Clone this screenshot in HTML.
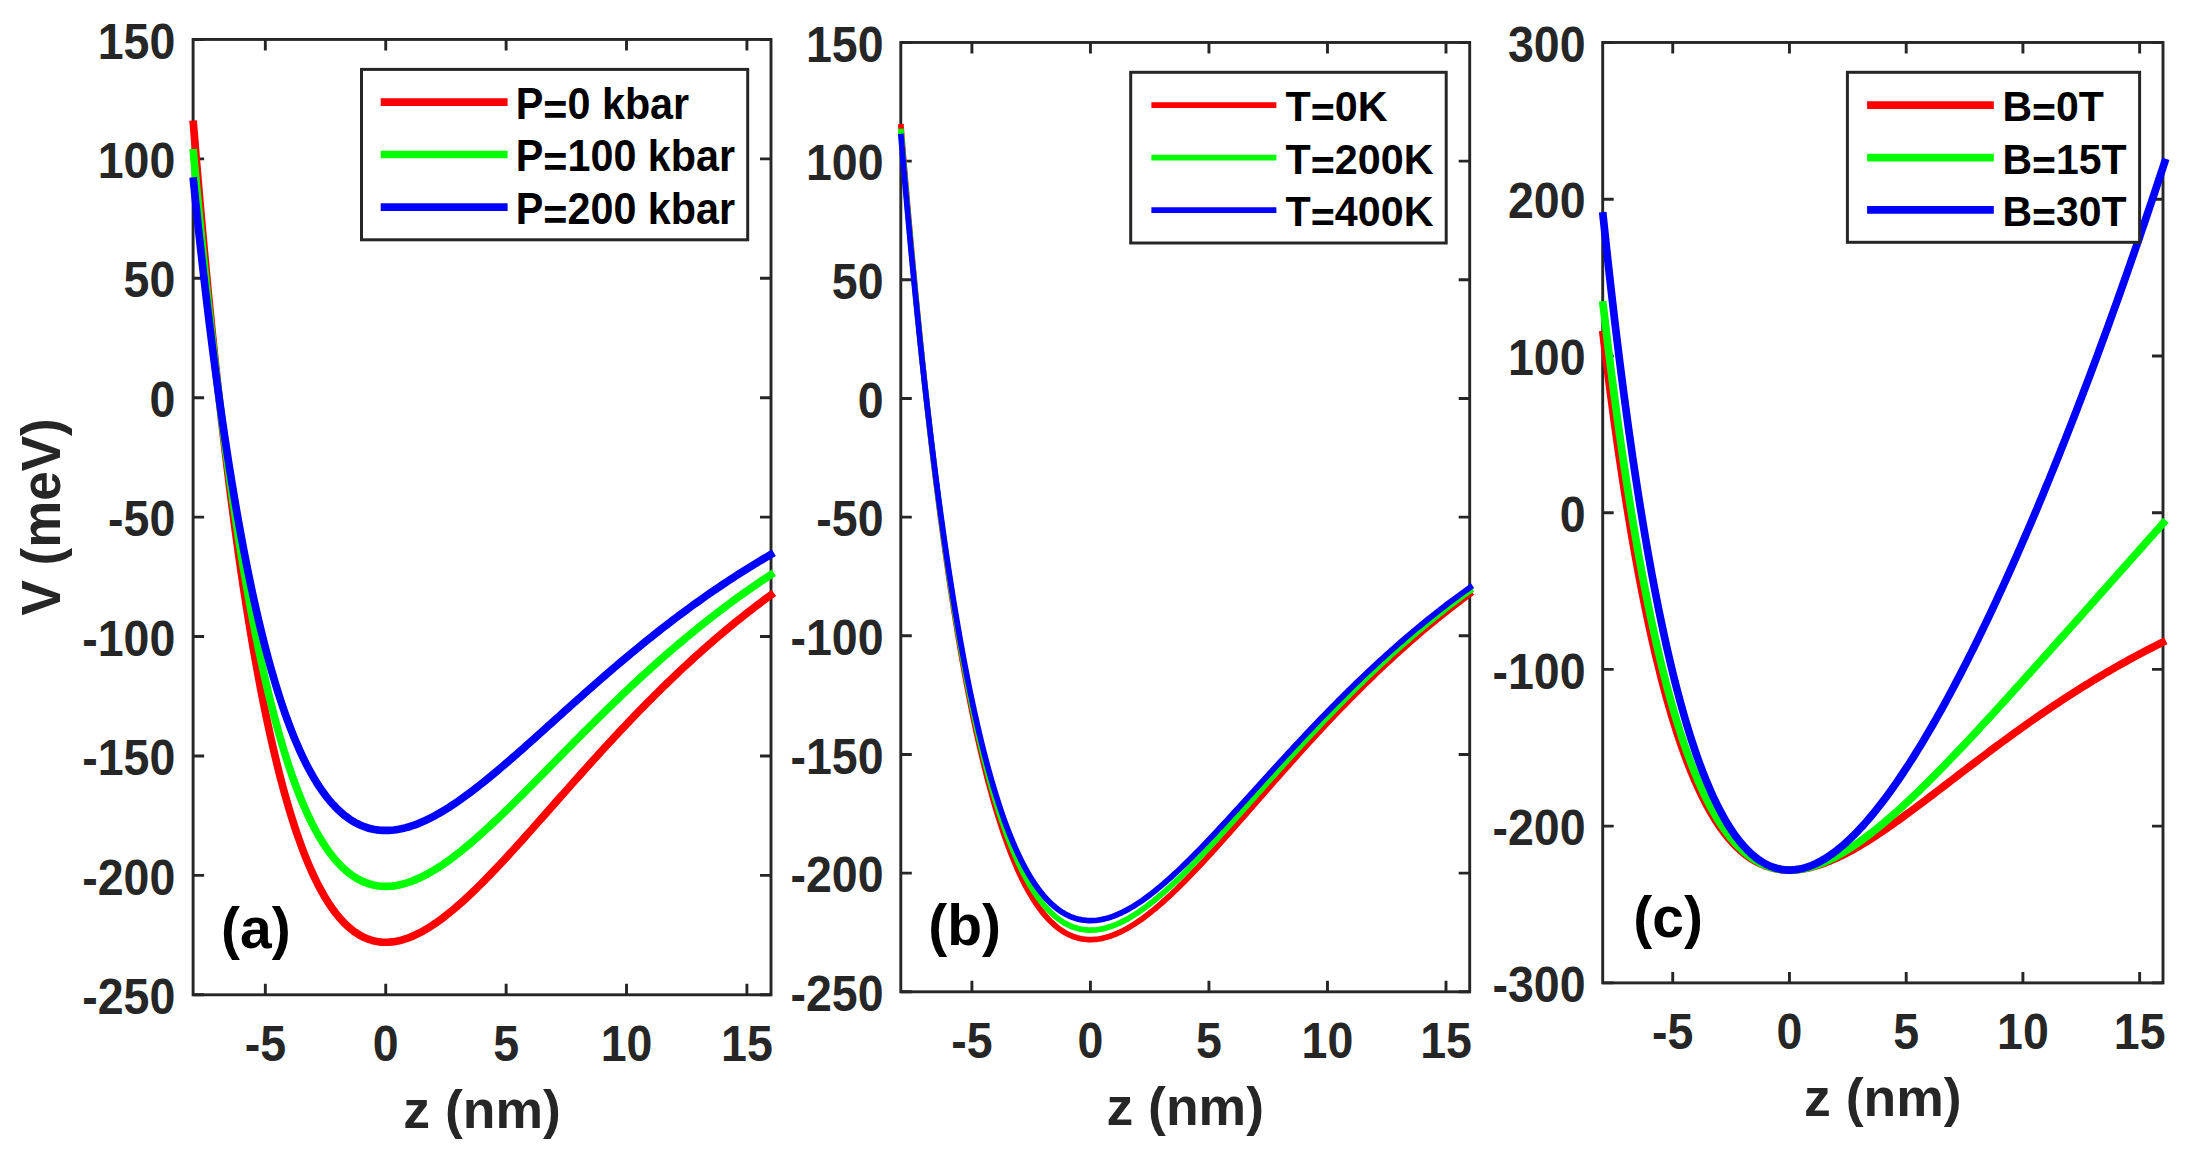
<!DOCTYPE html>
<html lang="en"><head><meta charset="utf-8"><title>V(z) potential profiles</title>
<style>html,body{margin:0;padding:0;background:#fff;}body{width:2190px;height:1150px;overflow:hidden;}svg{display:block;}</style>
</head><body>
<svg width="2190" height="1150" viewBox="0 0 2190 1150" font-family='"Liberation Sans", Arial, Helvetica, sans-serif' font-weight="700">
<rect width="2190" height="1150" fill="#ffffff"/>
<g><path d="M265.34 994.80V983.80M265.34 39.45V50.45M385.73 994.80V983.80M385.73 39.45V50.45M506.13 994.80V983.80M506.13 39.45V50.45M626.52 994.80V983.80M626.52 39.45V50.45M746.92 994.80V983.80M746.92 39.45V50.45M193.10 994.80H204.10M771.00 994.80H760.00M193.10 875.38H204.10M771.00 875.38H760.00M193.10 755.96H204.10M771.00 755.96H760.00M193.10 636.54H204.10M771.00 636.54H760.00M193.10 517.12H204.10M771.00 517.12H760.00M193.10 397.71H204.10M771.00 397.71H760.00M193.10 278.29H204.10M771.00 278.29H760.00M193.10 158.87H204.10M771.00 158.87H760.00M193.10 39.45H204.10M771.00 39.45H760.00" stroke="#262626" stroke-width="2.9" fill="none"/>
<rect x="193.10" y="39.45" width="577.90" height="955.35" fill="none" stroke="#262626" stroke-width="2.9"/>
<text transform="translate(265.34 1060.50) scale(1 1.06)" font-size="46.5" fill="#262626" text-anchor="middle">-5</text>
<text transform="translate(385.73 1060.50) scale(1 1.06)" font-size="46.5" fill="#262626" text-anchor="middle">0</text>
<text transform="translate(506.13 1060.50) scale(1 1.06)" font-size="46.5" fill="#262626" text-anchor="middle">5</text>
<text transform="translate(626.52 1060.50) scale(1 1.06)" font-size="46.5" fill="#262626" text-anchor="middle">10</text>
<text transform="translate(746.92 1060.50) scale(1 1.06)" font-size="46.5" fill="#262626" text-anchor="middle">15</text>
<text transform="translate(175.30 1014.00) scale(1 1.06)" font-size="46.5" fill="#262626" text-anchor="end">-250</text>
<text transform="translate(175.30 895.00) scale(1 1.06)" font-size="46.5" fill="#262626" text-anchor="end">-200</text>
<text transform="translate(175.30 775.00) scale(1 1.06)" font-size="46.5" fill="#262626" text-anchor="end">-150</text>
<text transform="translate(175.30 656.00) scale(1 1.06)" font-size="46.5" fill="#262626" text-anchor="end">-100</text>
<text transform="translate(175.30 536.00) scale(1 1.06)" font-size="46.5" fill="#262626" text-anchor="end">-50</text>
<text transform="translate(175.30 417.00) scale(1 1.06)" font-size="46.5" fill="#262626" text-anchor="end">0</text>
<text transform="translate(175.30 297.00) scale(1 1.06)" font-size="46.5" fill="#262626" text-anchor="end">50</text>
<text transform="translate(175.30 178.00) scale(1 1.06)" font-size="46.5" fill="#262626" text-anchor="end">100</text>
<text transform="translate(175.30 59.00) scale(1 1.06)" font-size="46.5" fill="#262626" text-anchor="end">150</text>
<text transform="translate(482.05 1128.40)" font-size="53.5" fill="#262626" text-anchor="middle">z (nm)</text>
<text transform="translate(59.50 516.92) rotate(-90) scale(1 1.03)" font-size="53.0" fill="#262626" text-anchor="middle">V (meV)</text>
<polyline points="193.10,120.56 195.52,150.15 197.94,178.90 200.36,206.85 202.78,234.00 205.20,260.38 207.62,286.00 210.04,310.88 212.46,335.03 214.88,358.49 217.30,381.25 219.72,403.33 222.14,424.76 224.56,445.55 226.98,465.71 229.40,485.25 231.82,504.20 234.24,522.56 236.66,540.35 239.08,557.59 241.50,574.27 243.92,590.43 246.34,606.07 248.76,621.20 251.18,635.83 253.60,649.99 256.02,663.67 258.44,676.89 260.86,689.66 263.28,702.00 265.70,713.91 268.12,725.39 270.54,736.48 272.96,747.16 275.38,757.46 277.80,767.38 280.22,776.93 282.64,786.12 285.06,794.96 287.48,803.46 289.90,811.62 292.32,819.46 294.74,826.98 297.16,834.19 299.58,841.10 302.00,847.72 304.42,854.05 306.84,860.09 309.26,865.87 311.68,871.38 314.10,876.64 316.52,881.64 318.94,886.40 321.36,890.91 323.78,895.20 326.20,899.26 328.62,903.09 331.04,906.71 333.46,910.13 335.88,913.34 338.30,916.35 340.72,919.16 343.14,921.79 345.56,924.24 347.98,926.51 350.40,928.60 352.82,930.53 355.24,932.29 357.66,933.90 360.08,935.35 362.50,936.65 364.92,937.80 367.34,938.81 369.76,939.68 372.18,940.42 374.60,941.03 377.02,941.51 379.44,941.87 381.86,942.11 384.28,942.24 386.70,942.25 389.12,942.15 391.54,941.95 393.96,941.64 396.38,941.23 398.80,940.73 401.22,940.14 403.64,939.45 406.06,938.68 408.48,937.82 410.90,936.88 413.32,935.86 415.74,934.76 418.16,933.59 420.58,932.34 423.00,931.03 425.42,929.65 427.84,928.20 430.26,926.69 432.68,925.12 435.10,923.49 437.52,921.81 439.94,920.07 442.36,918.28 444.78,916.43 447.20,914.54 449.62,912.60 452.04,910.62 454.46,908.59 456.88,906.52 459.30,904.42 461.72,902.27 464.14,900.09 466.56,897.87 468.98,895.61 471.39,893.33 473.81,891.01 476.23,888.67 478.65,886.29 481.07,883.89 483.49,881.46 485.91,879.01 488.33,876.54 490.75,874.04 493.17,871.52 495.59,868.99 498.01,866.43 500.43,863.86 502.85,861.27 505.27,858.67 507.69,856.05 510.11,853.41 512.53,850.77 514.95,848.11 517.37,845.44 519.79,842.76 522.21,840.08 524.63,837.38 527.05,834.68 529.47,831.97 531.89,829.25 534.31,826.53 536.73,823.80 539.15,821.07 541.57,818.34 543.99,815.60 546.41,812.86 548.83,810.12 551.25,807.38 553.67,804.64 556.09,801.90 558.51,799.16 560.93,796.42 563.35,793.69 565.77,790.95 568.19,788.22 570.61,785.50 573.03,782.77 575.45,780.05 577.87,777.34 580.29,774.63 582.71,771.92 585.13,769.22 587.55,766.53 589.97,763.84 592.39,761.16 594.81,758.49 597.23,755.82 599.65,753.17 602.07,750.52 604.49,747.88 606.91,745.24 609.33,742.62 611.75,740.01 614.17,737.40 616.59,734.81 619.01,732.22 621.43,729.65 623.85,727.08 626.27,724.53 628.69,721.98 631.11,719.45 633.53,716.93 635.95,714.42 638.37,711.92 640.79,709.43 643.21,706.96 645.63,704.50 648.05,702.04 650.47,699.61 652.89,697.18 655.31,694.76 657.73,692.36 660.15,689.97 662.57,687.60 664.99,685.23 667.41,682.88 669.83,680.54 672.25,678.22 674.67,675.91 677.09,673.61 679.51,671.32 681.93,669.05 684.35,666.79 686.77,664.55 689.19,662.32 691.61,660.10 694.03,657.90 696.45,655.71 698.87,653.53 701.29,651.37 703.71,649.22 706.13,647.08 708.55,644.96 710.97,642.85 713.39,640.76 715.81,638.67 718.23,636.61 720.65,634.55 723.07,632.52 725.49,630.49 727.91,628.48 730.33,626.48 732.75,624.50 735.17,622.53 737.59,620.57 740.01,618.63 742.43,616.70 744.85,614.78 747.27,612.88 749.69,610.99 752.11,609.12 754.53,607.26 756.95,605.41 759.37,603.57 761.79,601.75 764.21,599.95 766.63,598.15 769.05,596.37 771.47,594.60 773.89,592.85" fill="none" stroke="#ff0000" stroke-width="7.7" stroke-linejoin="round" stroke-linecap="butt"/>
<polyline points="193.10,149.00 195.52,175.56 197.94,201.36 200.36,226.44 202.78,250.80 205.20,274.47 207.62,297.46 210.04,319.79 212.46,341.47 214.88,362.51 217.30,382.94 219.72,402.76 222.14,421.99 224.56,440.64 226.98,458.73 229.40,476.27 231.82,493.27 234.24,509.75 236.66,525.71 239.08,541.18 241.50,556.15 243.92,570.65 246.34,584.68 248.76,598.26 251.18,611.40 253.60,624.10 256.02,636.37 258.44,648.24 260.86,659.70 263.28,670.77 265.70,681.45 268.12,691.76 270.54,701.71 272.96,711.30 275.38,720.54 277.80,729.44 280.22,738.01 282.64,746.26 285.06,754.19 287.48,761.81 289.90,769.14 292.32,776.17 294.74,782.92 297.16,789.39 299.58,795.59 302.00,801.53 304.42,807.21 306.84,812.64 309.26,817.82 311.68,822.77 314.10,827.48 316.52,831.97 318.94,836.24 321.36,840.29 323.78,844.14 326.20,847.78 328.62,851.22 331.04,854.47 333.46,857.54 335.88,860.42 338.30,863.12 340.72,865.65 343.14,868.01 345.56,870.20 347.98,872.24 350.40,874.12 352.82,875.85 355.24,877.43 357.66,878.87 360.08,880.17 362.50,881.34 364.92,882.37 367.34,883.28 369.76,884.06 372.18,884.72 374.60,885.27 377.02,885.70 379.44,886.02 381.86,886.24 384.28,886.35 386.70,886.36 389.12,886.27 391.54,886.09 393.96,885.82 396.38,885.45 398.80,885.00 401.22,884.47 403.64,883.85 406.06,883.16 408.48,882.39 410.90,881.54 413.32,880.63 415.74,879.64 418.16,878.59 420.58,877.47 423.00,876.29 425.42,875.05 427.84,873.76 430.26,872.40 432.68,870.99 435.10,869.53 437.52,868.02 439.94,866.46 442.36,864.85 444.78,863.20 447.20,861.50 449.62,859.76 452.04,857.98 454.46,856.16 456.88,854.30 459.30,852.41 461.72,850.49 464.14,848.53 466.56,846.53 468.98,844.51 471.39,842.46 473.81,840.38 476.23,838.28 478.65,836.15 481.07,833.99 483.49,831.81 485.91,829.62 488.33,827.39 490.75,825.15 493.17,822.90 495.59,820.62 498.01,818.33 500.43,816.02 502.85,813.69 505.27,811.36 507.69,809.01 510.11,806.64 512.53,804.27 514.95,801.88 517.37,799.49 519.79,797.09 522.21,794.67 524.63,792.26 527.05,789.83 529.47,787.40 531.89,784.96 534.31,782.52 536.73,780.07 539.15,777.62 541.57,775.17 543.99,772.71 546.41,770.26 548.83,767.80 551.25,765.34 553.67,762.88 556.09,760.42 558.51,757.96 560.93,755.50 563.35,753.05 565.77,750.59 568.19,748.14 570.61,745.70 573.03,743.25 575.45,740.81 577.87,738.37 580.29,735.94 582.71,733.51 585.13,731.09 587.55,728.68 589.97,726.26 592.39,723.86 594.81,721.46 597.23,719.07 599.65,716.68 602.07,714.31 604.49,711.94 606.91,709.58 609.33,707.22 611.75,704.88 614.17,702.54 616.59,700.21 619.01,697.89 621.43,695.58 623.85,693.28 626.27,690.99 628.69,688.70 631.11,686.43 633.53,684.17 635.95,681.92 638.37,679.67 640.79,677.44 643.21,675.22 645.63,673.01 648.05,670.81 650.47,668.62 652.89,666.44 655.31,664.28 657.73,662.12 660.15,659.98 662.57,657.84 664.99,655.72 667.41,653.61 669.83,651.52 672.25,649.43 674.67,647.36 677.09,645.29 679.51,643.24 681.93,641.20 684.35,639.18 686.77,637.16 689.19,635.16 691.61,633.17 694.03,631.19 696.45,629.23 698.87,627.27 701.29,625.33 703.71,623.40 706.13,621.49 708.55,619.58 710.97,617.69 713.39,615.81 715.81,613.94 718.23,612.09 720.65,610.25 723.07,608.42 725.49,606.60 727.91,604.79 730.33,603.00 732.75,601.22 735.17,599.45 737.59,597.70 740.01,595.95 742.43,594.22 744.85,592.50 747.27,590.80 749.69,589.10 752.11,587.42 754.53,585.75 756.95,584.09 759.37,582.44 761.79,580.81 764.21,579.19 766.63,577.58 769.05,575.98 771.47,574.40 773.89,572.82" fill="none" stroke="#00ff00" stroke-width="7.7" stroke-linejoin="round" stroke-linecap="butt"/>
<polyline points="193.10,177.45 195.52,200.96 197.94,223.82 200.36,246.03 202.78,267.60 205.20,288.57 207.62,308.93 210.04,328.70 212.46,347.90 214.88,366.54 217.30,384.63 219.72,402.18 222.14,419.21 224.56,435.73 226.98,451.75 229.40,467.28 231.82,482.34 234.24,496.93 236.66,511.07 239.08,524.77 241.50,538.03 243.92,550.87 246.34,563.30 248.76,575.32 251.18,586.96 253.60,598.20 256.02,609.08 258.44,619.58 260.86,629.74 263.28,639.54 265.70,649.00 268.12,658.13 270.54,666.94 272.96,675.43 275.38,683.62 277.80,691.50 280.22,699.09 282.64,706.39 285.06,713.42 287.48,720.17 289.90,726.66 292.32,732.89 294.74,738.87 297.16,744.60 299.58,750.09 302.00,755.35 304.42,760.38 306.84,765.18 309.26,769.78 311.68,774.16 314.10,778.33 316.52,782.31 318.94,786.09 321.36,789.68 323.78,793.08 326.20,796.31 328.62,799.36 331.04,802.23 333.46,804.95 335.88,807.50 338.30,809.89 340.72,812.13 343.14,814.22 345.56,816.16 347.98,817.96 350.40,819.63 352.82,821.16 355.24,822.56 357.66,823.84 360.08,824.99 362.50,826.02 364.92,826.94 367.34,827.74 369.76,828.44 372.18,829.02 374.60,829.51 377.02,829.89 379.44,830.18 381.86,830.37 384.28,830.46 386.70,830.47 389.12,830.40 391.54,830.23 393.96,829.99 396.38,829.67 398.80,829.27 401.22,828.80 403.64,828.25 406.06,827.64 408.48,826.95 410.90,826.21 413.32,825.39 415.74,824.52 418.16,823.59 420.58,822.60 423.00,821.56 425.42,820.46 427.84,819.31 430.26,818.11 432.68,816.86 435.10,815.57 437.52,814.23 439.94,812.85 442.36,811.42 444.78,809.96 447.20,808.45 449.62,806.91 452.04,805.34 454.46,803.73 456.88,802.08 459.30,800.41 461.72,798.70 464.14,796.97 466.56,795.20 468.98,793.41 471.39,791.59 473.81,789.75 476.23,787.89 478.65,786.00 481.07,784.09 483.49,782.17 485.91,780.22 488.33,778.25 490.75,776.27 493.17,774.27 495.59,772.25 498.01,770.22 500.43,768.18 502.85,766.12 505.27,764.05 507.69,761.97 510.11,759.87 512.53,757.77 514.95,755.66 517.37,753.54 519.79,751.41 522.21,749.27 524.63,747.13 527.05,744.98 529.47,742.83 531.89,740.67 534.31,738.51 536.73,736.34 539.15,734.17 541.57,732.00 543.99,729.82 546.41,727.65 548.83,725.47 551.25,723.29 553.67,721.11 556.09,718.94 558.51,716.76 560.93,714.58 563.35,712.41 565.77,710.24 568.19,708.06 570.61,705.90 573.03,703.73 575.45,701.57 577.87,699.41 580.29,697.26 582.71,695.11 585.13,692.96 587.55,690.82 589.97,688.69 592.39,686.56 594.81,684.43 597.23,682.32 599.65,680.20 602.07,678.10 604.49,676.00 606.91,673.91 609.33,671.82 611.75,669.74 614.17,667.67 616.59,665.61 619.01,663.56 621.43,661.51 623.85,659.47 626.27,657.44 628.69,655.42 631.11,653.41 633.53,651.41 635.95,649.41 638.37,647.42 640.79,645.45 643.21,643.48 645.63,641.52 648.05,639.58 650.47,637.64 652.89,635.71 655.31,633.79 657.73,631.88 660.15,629.98 662.57,628.09 664.99,626.21 667.41,624.35 669.83,622.49 672.25,620.64 674.67,618.80 677.09,616.98 679.51,615.16 681.93,613.36 684.35,611.56 686.77,609.78 689.19,608.00 691.61,606.24 694.03,604.49 696.45,602.75 698.87,601.02 701.29,599.30 703.71,597.59 706.13,595.89 708.55,594.21 710.97,592.53 713.39,590.87 715.81,589.21 718.23,587.57 720.65,585.94 723.07,584.32 725.49,582.71 727.91,581.11 730.33,579.52 732.75,577.94 735.17,576.38 737.59,574.82 740.01,573.28 742.43,571.75 744.85,570.22 747.27,568.71 749.69,567.21 752.11,565.72 754.53,564.24 756.95,562.77 759.37,561.32 761.79,559.87 764.21,558.43 766.63,557.01 769.05,555.59 771.47,554.19 773.89,552.79" fill="none" stroke="#0000ff" stroke-width="7.7" stroke-linejoin="round" stroke-linecap="butt"/>
<rect x="361.50" y="69.40" width="386.20" height="170.40" fill="#ffffff" stroke="#262626" stroke-width="3"/>
<line x1="380.70" x2="507.60" y1="102.20" y2="102.20" stroke="#ff0000" stroke-width="7.7"/>
<text transform="translate(515.80 119.00) scale(1 1.06)" font-size="41.3" fill="#000000"><tspan>P</tspan><tspan dy="5.60">=</tspan><tspan dy="-5.60">0 kbar</tspan></text>
<line x1="380.70" x2="507.60" y1="154.50" y2="154.50" stroke="#00ff00" stroke-width="7.7"/>
<text transform="translate(515.80 171.00) scale(1 1.06)" font-size="41.3" fill="#000000"><tspan>P</tspan><tspan dy="5.60">=</tspan><tspan dy="-5.60">100 kbar</tspan></text>
<line x1="380.70" x2="507.60" y1="207.10" y2="207.10" stroke="#0000ff" stroke-width="7.7"/>
<text transform="translate(515.80 224.00) scale(1 1.06)" font-size="41.3" fill="#000000"><tspan>P</tspan><tspan dy="5.60">=</tspan><tspan dy="-5.60">200 kbar</tspan></text>
<text transform="translate(221.00 948.00)" font-size="57" fill="#000000">(a)</text></g>
<g><path d="M971.91 991.80V980.80M971.91 42.47V53.47M1090.43 991.80V980.80M1090.43 42.47V53.47M1208.95 991.80V980.80M1208.95 42.47V53.47M1327.47 991.80V980.80M1327.47 42.47V53.47M1446.00 991.80V980.80M1446.00 42.47V53.47M900.80 991.80H911.80M1469.70 991.80H1458.70M900.80 873.13H911.80M1469.70 873.13H1458.70M900.80 754.47H911.80M1469.70 754.47H1458.70M900.80 635.80H911.80M1469.70 635.80H1458.70M900.80 517.13H911.80M1469.70 517.13H1458.70M900.80 398.47H911.80M1469.70 398.47H1458.70M900.80 279.80H911.80M1469.70 279.80H1458.70M900.80 161.14H911.80M1469.70 161.14H1458.70M900.80 42.47H911.80M1469.70 42.47H1458.70" stroke="#262626" stroke-width="2.9" fill="none"/>
<rect x="900.80" y="42.47" width="568.90" height="949.33" fill="none" stroke="#262626" stroke-width="2.9"/>
<text transform="translate(971.91 1057.50) scale(1 1.06)" font-size="46.5" fill="#262626" text-anchor="middle">-5</text>
<text transform="translate(1090.43 1057.50) scale(1 1.06)" font-size="46.5" fill="#262626" text-anchor="middle">0</text>
<text transform="translate(1208.95 1057.50) scale(1 1.06)" font-size="46.5" fill="#262626" text-anchor="middle">5</text>
<text transform="translate(1327.47 1057.50) scale(1 1.06)" font-size="46.5" fill="#262626" text-anchor="middle">10</text>
<text transform="translate(1446.00 1057.50) scale(1 1.06)" font-size="46.5" fill="#262626" text-anchor="middle">15</text>
<text transform="translate(883.50 1011.00) scale(1 1.06)" font-size="46.5" fill="#262626" text-anchor="end">-250</text>
<text transform="translate(883.50 892.00) scale(1 1.06)" font-size="46.5" fill="#262626" text-anchor="end">-200</text>
<text transform="translate(883.50 774.00) scale(1 1.06)" font-size="46.5" fill="#262626" text-anchor="end">-150</text>
<text transform="translate(883.50 655.00) scale(1 1.06)" font-size="46.5" fill="#262626" text-anchor="end">-100</text>
<text transform="translate(883.50 536.00) scale(1 1.06)" font-size="46.5" fill="#262626" text-anchor="end">-50</text>
<text transform="translate(883.50 418.00) scale(1 1.06)" font-size="46.5" fill="#262626" text-anchor="end">0</text>
<text transform="translate(883.50 299.00) scale(1 1.06)" font-size="46.5" fill="#262626" text-anchor="end">50</text>
<text transform="translate(883.50 180.00) scale(1 1.06)" font-size="46.5" fill="#262626" text-anchor="end">100</text>
<text transform="translate(883.50 62.00) scale(1 1.06)" font-size="46.5" fill="#262626" text-anchor="end">150</text>
<text transform="translate(1185.25 1125.40)" font-size="53.5" fill="#262626" text-anchor="middle">z (nm)</text>
<polyline points="900.80,124.02 903.18,153.38 905.56,181.92 907.95,209.65 910.33,236.60 912.71,262.78 915.09,288.20 917.48,312.89 919.86,336.87 922.24,360.14 924.62,382.73 927.00,404.65 929.39,425.92 931.77,446.55 934.15,466.56 936.53,485.96 938.92,504.76 941.30,522.99 943.68,540.64 946.06,557.75 948.45,574.31 950.83,590.35 953.21,605.87 955.59,620.89 957.97,635.41 960.36,649.46 962.74,663.04 965.12,676.17 967.50,688.84 969.89,701.09 972.27,712.91 974.65,724.31 977.03,735.31 979.41,745.92 981.80,756.14 984.18,765.98 986.56,775.46 988.94,784.59 991.33,793.36 993.71,801.80 996.09,809.90 998.47,817.68 1000.86,825.15 1003.24,832.31 1005.62,839.16 1008.00,845.73 1010.38,852.01 1012.77,858.02 1015.15,863.76 1017.53,869.23 1019.91,874.44 1022.30,879.41 1024.68,884.13 1027.06,888.61 1029.44,892.87 1031.82,896.90 1034.21,900.71 1036.59,904.30 1038.97,907.69 1041.35,910.87 1043.74,913.86 1046.12,916.66 1048.50,919.27 1050.88,921.70 1053.27,923.95 1055.65,926.03 1058.03,927.95 1060.41,929.70 1062.79,931.29 1065.18,932.73 1067.56,934.02 1069.94,935.16 1072.32,936.17 1074.71,937.03 1077.09,937.77 1079.47,938.37 1081.85,938.85 1084.23,939.21 1086.62,939.44 1089.00,939.57 1091.38,939.58 1093.76,939.48 1096.15,939.28 1098.53,938.98 1100.91,938.57 1103.29,938.07 1105.68,937.48 1108.06,936.80 1110.44,936.03 1112.82,935.18 1115.20,934.25 1117.59,933.23 1119.97,932.14 1122.35,930.98 1124.73,929.74 1127.12,928.44 1129.50,927.07 1131.88,925.63 1134.26,924.13 1136.64,922.57 1139.03,920.96 1141.41,919.28 1143.79,917.56 1146.17,915.78 1148.56,913.95 1150.94,912.07 1153.32,910.14 1155.70,908.17 1158.09,906.16 1160.47,904.11 1162.85,902.01 1165.23,899.88 1167.61,897.71 1170.00,895.51 1172.38,893.27 1174.76,891.00 1177.14,888.70 1179.53,886.37 1181.91,884.01 1184.29,881.63 1186.67,879.22 1189.05,876.78 1191.44,874.33 1193.82,871.85 1196.20,869.35 1198.58,866.83 1200.97,864.29 1203.35,861.73 1205.73,859.16 1208.11,856.57 1210.49,853.97 1212.88,851.36 1215.26,848.73 1217.64,846.09 1220.02,843.44 1222.41,840.78 1224.79,838.11 1227.17,835.43 1229.55,832.75 1231.94,830.06 1234.32,827.36 1236.70,824.65 1239.08,821.95 1241.46,819.24 1243.85,816.52 1246.23,813.80 1248.61,811.08 1250.99,808.36 1253.38,805.64 1255.76,802.92 1258.14,800.19 1260.52,797.47 1262.90,794.75 1265.29,792.04 1267.67,789.32 1270.05,786.61 1272.43,783.90 1274.82,781.19 1277.20,778.49 1279.58,775.79 1281.96,773.10 1284.35,770.41 1286.73,767.73 1289.11,765.06 1291.49,762.39 1293.87,759.72 1296.26,757.07 1298.64,754.42 1301.02,751.78 1303.40,749.15 1305.79,746.53 1308.17,743.91 1310.55,741.31 1312.93,738.71 1315.31,736.12 1317.70,733.54 1320.08,730.97 1322.46,728.42 1324.84,725.87 1327.23,723.33 1329.61,720.80 1331.99,718.29 1334.37,715.78 1336.76,713.29 1339.14,710.81 1341.52,708.34 1343.90,705.88 1346.28,703.43 1348.67,700.99 1351.05,698.57 1353.43,696.16 1355.81,693.76 1358.20,691.38 1360.58,689.00 1362.96,686.64 1365.34,684.29 1367.72,681.96 1370.11,679.63 1372.49,677.32 1374.87,675.03 1377.25,672.74 1379.64,670.47 1382.02,668.22 1384.40,665.97 1386.78,663.74 1389.17,661.52 1391.55,659.32 1393.93,657.13 1396.31,654.95 1398.69,652.79 1401.08,650.64 1403.46,648.51 1405.84,646.38 1408.22,644.27 1410.61,642.18 1412.99,640.10 1415.37,638.03 1417.75,635.98 1420.13,633.94 1422.52,631.91 1424.90,629.90 1427.28,627.90 1429.66,625.91 1432.05,623.94 1434.43,621.98 1436.81,620.04 1439.19,618.11 1441.58,616.19 1443.96,614.29 1446.34,612.40 1448.72,610.52 1451.10,608.66 1453.49,606.81 1455.87,604.97 1458.25,603.15 1460.63,601.34 1463.02,599.55 1465.40,597.76 1467.78,595.99 1470.16,594.24 1472.54,592.49" fill="none" stroke="#ff0000" stroke-width="5.75" stroke-linejoin="round" stroke-linecap="butt"/>
<polyline points="900.80,128.83 903.18,157.68 905.56,185.72 907.95,212.96 910.33,239.44 912.71,265.16 915.09,290.14 917.48,314.39 919.86,337.95 922.24,360.82 924.62,383.01 927.00,404.55 929.39,425.44 931.77,445.71 934.15,465.36 936.53,484.42 938.92,502.90 941.30,520.80 943.68,538.15 946.06,554.95 948.45,571.23 950.83,586.98 953.21,602.23 955.59,616.98 957.97,631.26 960.36,645.06 962.74,658.40 965.12,671.29 967.50,683.75 969.89,695.78 972.27,707.39 974.65,718.59 977.03,729.40 979.41,739.82 981.80,749.86 984.18,759.54 986.56,768.85 988.94,777.81 991.33,786.43 993.71,794.72 996.09,802.68 998.47,810.33 1000.86,817.66 1003.24,824.69 1005.62,831.43 1008.00,837.89 1010.38,844.06 1012.77,849.96 1015.15,855.59 1017.53,860.97 1019.91,866.09 1022.30,870.97 1024.68,875.61 1027.06,880.02 1029.44,884.19 1031.82,888.15 1034.21,891.89 1036.59,895.43 1038.97,898.76 1041.35,901.89 1043.74,904.82 1046.12,907.57 1048.50,910.13 1050.88,912.52 1053.27,914.73 1055.65,916.78 1058.03,918.66 1060.41,920.38 1062.79,921.94 1065.18,923.36 1067.56,924.62 1069.94,925.75 1072.32,926.73 1074.71,927.59 1077.09,928.31 1079.47,928.90 1081.85,929.37 1084.23,929.72 1086.62,929.95 1089.00,930.07 1091.38,930.09 1093.76,929.99 1096.15,929.79 1098.53,929.49 1100.91,929.10 1103.29,928.61 1105.68,928.03 1108.06,927.36 1110.44,926.60 1112.82,925.77 1115.20,924.85 1117.59,923.85 1119.97,922.78 1122.35,921.64 1124.73,920.42 1127.12,919.14 1129.50,917.79 1131.88,916.38 1134.26,914.91 1136.64,913.38 1139.03,911.79 1141.41,910.15 1143.79,908.45 1146.17,906.70 1148.56,904.90 1150.94,903.06 1153.32,901.17 1155.70,899.23 1158.09,897.25 1160.47,895.23 1162.85,893.18 1165.23,891.08 1167.61,888.95 1170.00,886.79 1172.38,884.59 1174.76,882.36 1177.14,880.10 1179.53,877.81 1181.91,875.49 1184.29,873.15 1186.67,870.78 1189.05,868.39 1191.44,865.98 1193.82,863.54 1196.20,861.09 1198.58,858.61 1200.97,856.12 1203.35,853.61 1205.73,851.08 1208.11,848.54 1210.49,845.98 1212.88,843.41 1215.26,840.83 1217.64,838.24 1220.02,835.63 1222.41,833.02 1224.79,830.40 1227.17,827.77 1229.55,825.13 1231.94,822.48 1234.32,819.83 1236.70,817.18 1239.08,814.52 1241.46,811.85 1243.85,809.19 1246.23,806.52 1248.61,803.84 1250.99,801.17 1253.38,798.50 1255.76,795.82 1258.14,793.15 1260.52,790.47 1262.90,787.80 1265.29,785.13 1267.67,782.46 1270.05,779.80 1272.43,777.13 1274.82,774.48 1277.20,771.82 1279.58,769.17 1281.96,766.53 1284.35,763.89 1286.73,761.25 1289.11,758.62 1291.49,756.00 1293.87,753.39 1296.26,750.78 1298.64,748.18 1301.02,745.58 1303.40,743.00 1305.79,740.42 1308.17,737.85 1310.55,735.29 1312.93,732.74 1315.31,730.20 1317.70,727.66 1320.08,725.14 1322.46,722.63 1324.84,720.12 1327.23,717.63 1329.61,715.15 1331.99,712.68 1334.37,710.22 1336.76,707.77 1339.14,705.33 1341.52,702.90 1343.90,700.48 1346.28,698.08 1348.67,695.69 1351.05,693.31 1353.43,690.94 1355.81,688.58 1358.20,686.24 1360.58,683.90 1362.96,681.58 1365.34,679.28 1367.72,676.98 1370.11,674.70 1372.49,672.43 1374.87,670.17 1377.25,667.93 1379.64,665.70 1382.02,663.48 1384.40,661.28 1386.78,659.09 1389.17,656.91 1391.55,654.74 1393.93,652.59 1396.31,650.45 1398.69,648.33 1401.08,646.22 1403.46,644.12 1405.84,642.03 1408.22,639.96 1410.61,637.90 1412.99,635.86 1415.37,633.83 1417.75,631.81 1420.13,629.81 1422.52,627.82 1424.90,625.84 1427.28,623.87 1429.66,621.92 1432.05,619.99 1434.43,618.06 1436.81,616.15 1439.19,614.26 1441.58,612.37 1443.96,610.50 1446.34,608.65 1448.72,606.80 1451.10,604.97 1453.49,603.15 1455.87,601.35 1458.25,599.56 1460.63,597.78 1463.02,596.02 1465.40,594.27 1467.78,592.53 1470.16,590.80 1472.54,589.09" fill="none" stroke="#00ff00" stroke-width="5.75" stroke-linejoin="round" stroke-linecap="butt"/>
<polyline points="900.80,133.65 903.18,161.98 905.56,189.52 907.95,216.28 910.33,242.28 912.71,267.54 915.09,292.07 917.48,315.90 919.86,339.03 922.24,361.49 924.62,383.28 927.00,404.44 929.39,424.96 931.77,444.87 934.15,464.17 936.53,482.89 938.92,501.03 941.30,518.62 943.68,535.66 946.06,552.16 948.45,568.14 950.83,583.62 953.21,598.59 955.59,613.08 957.97,627.10 960.36,640.66 962.74,653.76 965.12,666.42 967.50,678.66 969.89,690.47 972.27,701.87 974.65,712.88 977.03,723.49 979.41,733.73 981.80,743.59 984.18,753.09 986.56,762.24 988.94,771.04 991.33,779.51 993.71,787.64 996.09,795.46 998.47,802.97 1000.86,810.18 1003.24,817.08 1005.62,823.70 1008.00,830.04 1010.38,836.10 1012.77,841.90 1015.15,847.43 1017.53,852.71 1019.91,857.74 1022.30,862.53 1024.68,867.09 1027.06,871.42 1029.44,875.52 1031.82,879.41 1034.21,883.08 1036.59,886.55 1038.97,889.82 1041.35,892.90 1043.74,895.78 1046.12,898.48 1048.50,901.00 1050.88,903.34 1053.27,905.51 1055.65,907.52 1058.03,909.37 1060.41,911.06 1062.79,912.59 1065.18,913.98 1067.56,915.23 1069.94,916.33 1072.32,917.30 1074.71,918.14 1077.09,918.84 1079.47,919.43 1081.85,919.89 1084.23,920.23 1086.62,920.46 1089.00,920.58 1091.38,920.59 1093.76,920.50 1096.15,920.30 1098.53,920.01 1100.91,919.62 1103.29,919.14 1105.68,918.57 1108.06,917.91 1110.44,917.17 1112.82,916.35 1115.20,915.45 1117.59,914.47 1119.97,913.42 1122.35,912.30 1124.73,911.10 1127.12,909.84 1129.50,908.52 1131.88,907.13 1134.26,905.69 1136.64,904.18 1139.03,902.62 1141.41,901.01 1143.79,899.34 1146.17,897.62 1148.56,895.86 1150.94,894.05 1153.32,892.19 1155.70,890.29 1158.09,888.35 1160.47,886.36 1162.85,884.34 1165.23,882.29 1167.61,880.19 1170.00,878.07 1172.38,875.91 1174.76,873.72 1177.14,871.50 1179.53,869.25 1181.91,866.97 1184.29,864.67 1186.67,862.35 1189.05,860.00 1191.44,857.63 1193.82,855.24 1196.20,852.82 1198.58,850.39 1200.97,847.94 1203.35,845.48 1205.73,843.00 1208.11,840.50 1210.49,837.99 1212.88,835.47 1215.26,832.93 1217.64,830.38 1220.02,827.83 1222.41,825.26 1224.79,822.68 1227.17,820.10 1229.55,817.51 1231.94,814.91 1234.32,812.31 1236.70,809.70 1239.08,807.09 1241.46,804.47 1243.85,801.85 1246.23,799.23 1248.61,796.60 1250.99,793.98 1253.38,791.35 1255.76,788.73 1258.14,786.10 1260.52,783.47 1262.90,780.85 1265.29,778.23 1267.67,775.61 1270.05,772.99 1272.43,770.37 1274.82,767.76 1277.20,765.15 1279.58,762.55 1281.96,759.95 1284.35,757.36 1286.73,754.77 1289.11,752.19 1291.49,749.62 1293.87,747.05 1296.26,744.49 1298.64,741.93 1301.02,739.39 1303.40,736.85 1305.79,734.31 1308.17,731.79 1310.55,729.28 1312.93,726.77 1315.31,724.27 1317.70,721.79 1320.08,719.31 1322.46,716.84 1324.84,714.38 1327.23,711.93 1329.61,709.49 1331.99,707.07 1334.37,704.65 1336.76,702.24 1339.14,699.85 1341.52,697.46 1343.90,695.09 1346.28,692.73 1348.67,690.38 1351.05,688.04 1353.43,685.71 1355.81,683.40 1358.20,681.10 1360.58,678.81 1362.96,676.53 1365.34,674.26 1367.72,672.01 1370.11,669.77 1372.49,667.54 1374.87,665.32 1377.25,663.12 1379.64,660.93 1382.02,658.75 1384.40,656.59 1386.78,654.43 1389.17,652.29 1391.55,650.17 1393.93,648.05 1396.31,645.95 1398.69,643.87 1401.08,641.79 1403.46,639.73 1405.84,637.68 1408.22,635.65 1410.61,633.63 1412.99,631.62 1415.37,629.63 1417.75,627.64 1420.13,625.68 1422.52,623.72 1424.90,621.78 1427.28,619.85 1429.66,617.93 1432.05,616.03 1434.43,614.14 1436.81,612.27 1439.19,610.40 1441.58,608.55 1443.96,606.72 1446.34,604.89 1448.72,603.08 1451.10,601.28 1453.49,599.50 1455.87,597.73 1458.25,595.97 1460.63,594.22 1463.02,592.49 1465.40,590.77 1467.78,589.06 1470.16,587.37 1472.54,585.69" fill="none" stroke="#0000ff" stroke-width="5.75" stroke-linejoin="round" stroke-linecap="butt"/>
<rect x="1130.70" y="72.30" width="315.50" height="170.70" fill="#ffffff" stroke="#262626" stroke-width="3"/>
<line x1="1151.40" x2="1276.40" y1="105.20" y2="105.20" stroke="#ff0000" stroke-width="5.75"/>
<text transform="translate(1285.50 121.00) scale(1 1.045)" font-size="41.3" fill="#000000"><tspan>T</tspan><tspan dy="5.60">=</tspan><tspan dy="-5.60">0K</tspan></text>
<line x1="1151.40" x2="1276.40" y1="157.60" y2="157.60" stroke="#00ff00" stroke-width="5.75"/>
<text transform="translate(1285.50 174.00) scale(1 1.045)" font-size="41.3" fill="#000000"><tspan>T</tspan><tspan dy="5.60">=</tspan><tspan dy="-5.60">200K</tspan></text>
<line x1="1151.40" x2="1276.40" y1="210.00" y2="210.00" stroke="#0000ff" stroke-width="5.75"/>
<text transform="translate(1285.50 226.00) scale(1 1.045)" font-size="41.3" fill="#000000"><tspan>T</tspan><tspan dy="5.60">=</tspan><tspan dy="-5.60">400K</tspan></text>
<text transform="translate(928.30 945.40)" font-size="57" fill="#000000">(b)</text></g>
<g><path d="M1672.74 982.90V971.90M1672.74 42.47V53.47M1789.47 982.90V971.90M1789.47 42.47V53.47M1906.20 982.90V971.90M1906.20 42.47V53.47M2022.92 982.90V971.90M2022.92 42.47V53.47M2139.65 982.90V971.90M2139.65 42.47V53.47M1602.70 982.90H1613.70M2163.00 982.90H2152.00M1602.70 826.16H1613.70M2163.00 826.16H2152.00M1602.70 669.42H1613.70M2163.00 669.42H2152.00M1602.70 512.69H1613.70M2163.00 512.69H2152.00M1602.70 355.95H1613.70M2163.00 355.95H2152.00M1602.70 199.21H1613.70M2163.00 199.21H2152.00M1602.70 42.47H1613.70M2163.00 42.47H2152.00" stroke="#262626" stroke-width="2.9" fill="none"/>
<rect x="1602.70" y="42.47" width="560.30" height="940.43" fill="none" stroke="#262626" stroke-width="2.9"/>
<text transform="translate(1672.74 1048.50) scale(1 1.06)" font-size="46.5" fill="#262626" text-anchor="middle">-5</text>
<text transform="translate(1789.47 1048.50) scale(1 1.06)" font-size="46.5" fill="#262626" text-anchor="middle">0</text>
<text transform="translate(1906.20 1048.50) scale(1 1.06)" font-size="46.5" fill="#262626" text-anchor="middle">5</text>
<text transform="translate(2022.92 1048.50) scale(1 1.06)" font-size="46.5" fill="#262626" text-anchor="middle">10</text>
<text transform="translate(2139.65 1048.50) scale(1 1.06)" font-size="46.5" fill="#262626" text-anchor="middle">15</text>
<text transform="translate(1585.50 1002.00) scale(1 1.06)" font-size="46.5" fill="#262626" text-anchor="end">-300</text>
<text transform="translate(1585.50 845.00) scale(1 1.06)" font-size="46.5" fill="#262626" text-anchor="end">-200</text>
<text transform="translate(1585.50 689.00) scale(1 1.06)" font-size="46.5" fill="#262626" text-anchor="end">-100</text>
<text transform="translate(1585.50 532.00) scale(1 1.06)" font-size="46.5" fill="#262626" text-anchor="end">0</text>
<text transform="translate(1585.50 375.00) scale(1 1.06)" font-size="46.5" fill="#262626" text-anchor="end">100</text>
<text transform="translate(1585.50 218.00) scale(1 1.06)" font-size="46.5" fill="#262626" text-anchor="end">200</text>
<text transform="translate(1585.50 62.00) scale(1 1.06)" font-size="46.5" fill="#262626" text-anchor="end">300</text>
<text transform="translate(1882.85 1116.40)" font-size="53.5" fill="#262626" text-anchor="middle">z (nm)</text>
<polyline points="1602.70,330.81 1605.05,350.22 1607.39,369.10 1609.74,387.43 1612.09,405.25 1614.43,422.56 1616.78,439.38 1619.12,455.70 1621.47,471.56 1623.82,486.95 1626.16,501.88 1628.51,516.38 1630.86,530.44 1633.20,544.08 1635.55,557.31 1637.89,570.14 1640.24,582.57 1642.59,594.62 1644.93,606.30 1647.28,617.61 1649.63,628.56 1651.97,639.16 1654.32,649.42 1656.66,659.35 1659.01,668.96 1661.36,678.25 1663.70,687.22 1666.05,695.90 1668.40,704.28 1670.74,712.38 1673.09,720.19 1675.43,727.73 1677.78,735.00 1680.13,742.02 1682.47,748.77 1684.82,755.28 1687.17,761.55 1689.51,767.58 1691.86,773.38 1694.20,778.96 1696.55,784.32 1698.90,789.46 1701.24,794.40 1703.59,799.13 1705.94,803.66 1708.28,808.01 1710.63,812.16 1712.97,816.13 1715.32,819.92 1717.67,823.54 1720.01,826.99 1722.36,830.27 1724.71,833.39 1727.05,836.35 1729.40,839.17 1731.74,841.83 1734.09,844.35 1736.44,846.72 1738.78,848.96 1741.13,851.07 1743.48,853.05 1745.82,854.89 1748.17,856.62 1750.51,858.23 1752.86,859.71 1755.21,861.09 1757.55,862.35 1759.90,863.51 1762.25,864.56 1764.59,865.52 1766.94,866.37 1769.28,867.12 1771.63,867.79 1773.98,868.36 1776.32,868.85 1778.67,869.25 1781.02,869.56 1783.36,869.80 1785.71,869.95 1788.05,870.04 1790.40,870.04 1792.75,869.98 1795.09,869.85 1797.44,869.64 1799.79,869.38 1802.13,869.05 1804.48,868.66 1806.82,868.21 1809.17,867.70 1811.52,867.14 1813.86,866.52 1816.21,865.85 1818.56,865.13 1820.90,864.36 1823.25,863.54 1825.59,862.68 1827.94,861.77 1830.29,860.83 1832.63,859.83 1834.98,858.80 1837.33,857.74 1839.67,856.63 1842.02,855.49 1844.36,854.31 1846.71,853.10 1849.06,851.86 1851.40,850.59 1853.75,849.29 1856.10,847.96 1858.44,846.60 1860.79,845.22 1863.13,843.81 1865.48,842.37 1867.83,840.92 1870.17,839.44 1872.52,837.94 1874.87,836.42 1877.21,834.88 1879.56,833.32 1881.90,831.75 1884.25,830.15 1886.60,828.54 1888.94,826.92 1891.29,825.28 1893.64,823.63 1895.98,821.97 1898.33,820.29 1900.67,818.60 1903.02,816.90 1905.37,815.19 1907.71,813.47 1910.06,811.74 1912.41,810.01 1914.75,808.26 1917.10,806.51 1919.44,804.76 1921.79,802.99 1924.14,801.22 1926.48,799.45 1928.83,797.67 1931.18,795.89 1933.52,794.10 1935.87,792.31 1938.21,790.52 1940.56,788.73 1942.91,786.93 1945.25,785.13 1947.60,783.34 1949.95,781.54 1952.29,779.74 1954.64,777.94 1956.98,776.14 1959.33,774.35 1961.68,772.55 1964.02,770.76 1966.37,768.96 1968.72,767.17 1971.06,765.39 1973.41,763.60 1975.75,761.82 1978.10,760.04 1980.45,758.26 1982.79,756.49 1985.14,754.73 1987.49,752.96 1989.83,751.20 1992.18,749.45 1994.52,747.70 1996.87,745.96 1999.22,744.22 2001.56,742.49 2003.91,740.76 2006.26,739.04 2008.60,737.32 2010.95,735.61 2013.29,733.91 2015.64,732.21 2017.99,730.52 2020.33,728.84 2022.68,727.16 2025.03,725.49 2027.37,723.83 2029.72,722.18 2032.06,720.53 2034.41,718.89 2036.76,717.26 2039.10,715.63 2041.45,714.02 2043.80,712.41 2046.14,710.81 2048.49,709.22 2050.83,707.63 2053.18,706.05 2055.53,704.49 2057.87,702.93 2060.22,701.38 2062.57,699.83 2064.91,698.30 2067.26,696.77 2069.60,695.26 2071.95,693.75 2074.30,692.25 2076.64,690.76 2078.99,689.28 2081.34,687.80 2083.68,686.34 2086.03,684.88 2088.38,683.44 2090.72,682.00 2093.07,680.57 2095.41,679.15 2097.76,677.74 2100.11,676.34 2102.45,674.95 2104.80,673.56 2107.15,672.19 2109.49,670.82 2111.84,669.47 2114.18,668.12 2116.53,666.78 2118.88,665.45 2121.22,664.13 2123.57,662.82 2125.92,661.52 2128.26,660.22 2130.61,658.94 2132.95,657.66 2135.30,656.40 2137.65,655.14 2139.99,653.89 2142.34,652.65 2144.69,651.42 2147.03,650.20 2149.38,648.99 2151.72,647.79 2154.07,646.59 2156.42,645.41 2158.76,644.23 2161.11,643.06 2163.46,641.90 2165.80,640.75" fill="none" stroke="#ff0000" stroke-width="7.7" stroke-linejoin="round" stroke-linecap="butt"/>
<polyline points="1602.70,301.13 1605.05,321.28 1607.39,340.89 1609.74,359.95 1612.09,378.48 1614.43,396.49 1616.78,414.00 1619.12,431.01 1621.47,447.54 1623.82,463.60 1626.16,479.19 1628.51,494.33 1630.86,509.04 1633.20,523.31 1635.55,537.15 1637.89,550.59 1640.24,563.62 1642.59,576.27 1644.93,588.52 1647.28,600.40 1649.63,611.92 1651.97,623.08 1654.32,633.88 1656.66,644.35 1659.01,654.48 1661.36,664.28 1663.70,673.77 1666.05,682.94 1668.40,691.81 1670.74,700.38 1673.09,708.67 1675.43,716.67 1677.78,724.39 1680.13,731.84 1682.47,739.03 1684.82,745.97 1687.17,752.65 1689.51,759.08 1691.86,765.28 1694.20,771.24 1696.55,776.97 1698.90,782.48 1701.24,787.77 1703.59,792.85 1705.94,797.73 1708.28,802.40 1710.63,806.87 1712.97,811.15 1715.32,815.24 1717.67,819.15 1720.01,822.88 1722.36,826.44 1724.71,829.82 1727.05,833.04 1729.40,836.10 1731.74,838.99 1734.09,841.74 1736.44,844.33 1738.78,846.78 1741.13,849.08 1743.48,851.25 1745.82,853.27 1748.17,855.17 1750.51,856.93 1752.86,858.57 1755.21,860.09 1757.55,861.49 1759.90,862.77 1762.25,863.93 1764.59,864.99 1766.94,865.94 1769.28,866.78 1771.63,867.52 1773.98,868.16 1776.32,868.70 1778.67,869.15 1781.02,869.50 1783.36,869.77 1785.71,869.94 1788.05,870.03 1790.40,870.04 1792.75,869.97 1795.09,869.82 1797.44,869.59 1799.79,869.29 1802.13,868.91 1804.48,868.47 1806.82,867.95 1809.17,867.37 1811.52,866.72 1813.86,866.01 1816.21,865.24 1818.56,864.41 1820.90,863.52 1823.25,862.57 1825.59,861.57 1827.94,860.51 1830.29,859.41 1832.63,858.25 1834.98,857.04 1837.33,855.79 1839.67,854.48 1842.02,853.14 1844.36,851.75 1846.71,850.31 1849.06,848.84 1851.40,847.33 1853.75,845.77 1856.10,844.18 1858.44,842.55 1860.79,840.89 1863.13,839.19 1865.48,837.46 1867.83,835.69 1870.17,833.90 1872.52,832.07 1874.87,830.21 1877.21,828.33 1879.56,826.42 1881.90,824.48 1884.25,822.51 1886.60,820.52 1888.94,818.50 1891.29,816.46 1893.64,814.40 1895.98,812.31 1898.33,810.21 1900.67,808.08 1903.02,805.93 1905.37,803.76 1907.71,801.58 1910.06,799.37 1912.41,797.15 1914.75,794.91 1917.10,792.65 1919.44,790.38 1921.79,788.09 1924.14,785.79 1926.48,783.47 1928.83,781.14 1931.18,778.80 1933.52,776.44 1935.87,774.08 1938.21,771.69 1940.56,769.30 1942.91,766.90 1945.25,764.48 1947.60,762.06 1949.95,759.62 1952.29,757.18 1954.64,754.73 1956.98,752.27 1959.33,749.80 1961.68,747.32 1964.02,744.83 1966.37,742.34 1968.72,739.83 1971.06,737.33 1973.41,734.81 1975.75,732.29 1978.10,729.76 1980.45,727.23 1982.79,724.69 1985.14,722.15 1987.49,719.60 1989.83,717.04 1992.18,714.49 1994.52,711.92 1996.87,709.36 1999.22,706.78 2001.56,704.21 2003.91,701.63 2006.26,699.05 2008.60,696.46 2010.95,693.87 2013.29,691.28 2015.64,688.69 2017.99,686.09 2020.33,683.49 2022.68,680.89 2025.03,678.28 2027.37,675.67 2029.72,673.06 2032.06,670.45 2034.41,667.84 2036.76,665.23 2039.10,662.61 2041.45,659.99 2043.80,657.37 2046.14,654.75 2048.49,652.13 2050.83,649.50 2053.18,646.88 2055.53,644.25 2057.87,641.63 2060.22,639.00 2062.57,636.37 2064.91,633.74 2067.26,631.11 2069.60,628.48 2071.95,625.85 2074.30,623.22 2076.64,620.59 2078.99,617.95 2081.34,615.32 2083.68,612.68 2086.03,610.05 2088.38,607.41 2090.72,604.78 2093.07,602.14 2095.41,599.51 2097.76,596.87 2100.11,594.23 2102.45,591.59 2104.80,588.96 2107.15,586.32 2109.49,583.68 2111.84,581.04 2114.18,578.40 2116.53,575.76 2118.88,573.12 2121.22,570.48 2123.57,567.84 2125.92,565.20 2128.26,562.56 2130.61,559.92 2132.95,557.28 2135.30,554.63 2137.65,551.99 2139.99,549.35 2142.34,546.70 2144.69,544.06 2147.03,541.42 2149.38,538.77 2151.72,536.13 2154.07,533.48 2156.42,530.83 2158.76,528.19 2161.11,525.54 2163.46,522.89 2165.80,520.24" fill="none" stroke="#00ff00" stroke-width="7.7" stroke-linejoin="round" stroke-linecap="butt"/>
<polyline points="1602.70,212.09 1605.05,234.47 1607.39,256.27 1609.74,277.49 1612.09,298.16 1614.43,318.29 1616.78,337.88 1619.12,356.95 1621.47,375.50 1623.82,393.55 1626.16,411.12 1628.51,428.20 1630.86,444.82 1633.20,460.97 1635.55,476.68 1637.89,491.95 1640.24,506.78 1642.59,521.20 1644.93,535.20 1647.28,548.80 1649.63,562.00 1651.97,574.82 1654.32,587.26 1656.66,599.33 1659.01,611.03 1661.36,622.39 1663.70,633.39 1666.05,644.06 1668.40,654.39 1670.74,664.40 1673.09,674.09 1675.43,683.47 1677.78,692.55 1680.13,701.33 1682.47,709.81 1684.82,718.01 1687.17,725.93 1689.51,733.58 1691.86,740.96 1694.20,748.07 1696.55,754.93 1698.90,761.54 1701.24,767.91 1703.59,774.03 1705.94,779.92 1708.28,785.57 1710.63,791.01 1712.97,796.22 1715.32,801.21 1717.67,805.99 1720.01,810.57 1722.36,814.94 1724.71,819.12 1727.05,823.10 1729.40,826.89 1731.74,830.49 1734.09,833.91 1736.44,837.15 1738.78,840.22 1741.13,843.12 1743.48,845.85 1745.82,848.41 1748.17,850.81 1750.51,853.06 1752.86,855.15 1755.21,857.09 1757.55,858.89 1759.90,860.54 1762.25,862.04 1764.59,863.41 1766.94,864.64 1769.28,865.74 1771.63,866.71 1773.98,867.54 1776.32,868.26 1778.67,868.85 1781.02,869.32 1783.36,869.67 1785.71,869.91 1788.05,870.03 1790.40,870.04 1792.75,869.94 1795.09,869.74 1797.44,869.43 1799.79,869.02 1802.13,868.50 1804.48,867.89 1806.82,867.18 1809.17,866.38 1811.52,865.48 1813.86,864.49 1816.21,863.42 1818.56,862.25 1820.90,861.00 1823.25,859.66 1825.59,858.24 1827.94,856.74 1830.29,855.15 1832.63,853.49 1834.98,851.75 1837.33,849.94 1839.67,848.05 1842.02,846.09 1844.36,844.05 1846.71,841.95 1849.06,839.78 1851.40,837.53 1853.75,835.22 1856.10,832.85 1858.44,830.41 1860.79,827.90 1863.13,825.34 1865.48,822.71 1867.83,820.02 1870.17,817.27 1872.52,814.46 1874.87,811.60 1877.21,808.68 1879.56,805.70 1881.90,802.66 1884.25,799.58 1886.60,796.44 1888.94,793.24 1891.29,790.00 1893.64,786.70 1895.98,783.35 1898.33,779.95 1900.67,776.51 1903.02,773.01 1905.37,769.47 1907.71,765.88 1910.06,762.25 1912.41,758.57 1914.75,754.84 1917.10,751.07 1919.44,747.26 1921.79,743.40 1924.14,739.50 1926.48,735.55 1928.83,731.57 1931.18,727.54 1933.52,723.47 1935.87,719.36 1938.21,715.22 1940.56,711.03 1942.91,706.80 1945.25,702.53 1947.60,698.23 1949.95,693.89 1952.29,689.51 1954.64,685.09 1956.98,680.63 1959.33,676.14 1961.68,671.61 1964.02,667.05 1966.37,662.45 1968.72,657.82 1971.06,653.15 1973.41,648.45 1975.75,643.71 1978.10,638.93 1980.45,634.13 1982.79,629.29 1985.14,624.41 1987.49,619.51 1989.83,614.57 1992.18,609.59 1994.52,604.59 1996.87,599.55 1999.22,594.48 2001.56,589.38 2003.91,584.25 2006.26,579.08 2008.60,573.88 2010.95,568.66 2013.29,563.40 2015.64,558.11 2017.99,552.79 2020.33,547.43 2022.68,542.05 2025.03,536.64 2027.37,531.20 2029.72,525.72 2032.06,520.22 2034.41,514.69 2036.76,509.13 2039.10,503.53 2041.45,497.91 2043.80,492.26 2046.14,486.58 2048.49,480.87 2050.83,475.13 2053.18,469.36 2055.53,463.56 2057.87,457.73 2060.22,451.87 2062.57,445.99 2064.91,440.07 2067.26,434.13 2069.60,428.16 2071.95,422.16 2074.30,416.13 2076.64,410.07 2078.99,403.98 2081.34,397.87 2083.68,391.72 2086.03,385.55 2088.38,379.35 2090.72,373.12 2093.07,366.86 2095.41,360.57 2097.76,354.26 2100.11,347.91 2102.45,341.54 2104.80,335.14 2107.15,328.71 2109.49,322.25 2111.84,315.76 2114.18,309.25 2116.53,302.71 2118.88,296.14 2121.22,289.54 2123.57,282.91 2125.92,276.25 2128.26,269.56 2130.61,262.85 2132.95,256.11 2135.30,249.34 2137.65,242.54 2139.99,235.71 2142.34,228.86 2144.69,221.97 2147.03,215.06 2149.38,208.12 2151.72,201.14 2154.07,194.15 2156.42,187.12 2158.76,180.06 2161.11,172.98 2163.46,165.86 2165.80,158.72" fill="none" stroke="#0000ff" stroke-width="7.7" stroke-linejoin="round" stroke-linecap="butt"/>
<rect x="1847.40" y="72.30" width="292.20" height="170.00" fill="#ffffff" stroke="#262626" stroke-width="3"/>
<line x1="1867.10" x2="1993.80" y1="105.20" y2="105.20" stroke="#ff0000" stroke-width="7.7"/>
<text transform="translate(2002.40 121.00) scale(1 1.045)" font-size="41.0" fill="#000000"><tspan>B</tspan><tspan dy="5.60">=</tspan><tspan dy="-5.60">0T</tspan></text>
<line x1="1867.10" x2="1993.80" y1="157.60" y2="157.60" stroke="#00ff00" stroke-width="7.7"/>
<text transform="translate(2002.40 174.00) scale(1 1.045)" font-size="41.0" fill="#000000"><tspan>B</tspan><tspan dy="5.60">=</tspan><tspan dy="-5.60">15T</tspan></text>
<line x1="1867.10" x2="1993.80" y1="209.90" y2="209.90" stroke="#0000ff" stroke-width="7.7"/>
<text transform="translate(2002.40 226.00) scale(1 1.045)" font-size="41.0" fill="#000000"><tspan>B</tspan><tspan dy="5.60">=</tspan><tspan dy="-5.60">30T</tspan></text>
<text transform="translate(1633.30 936.70)" font-size="57" fill="#000000">(c)</text></g>
</svg>
</body></html>
